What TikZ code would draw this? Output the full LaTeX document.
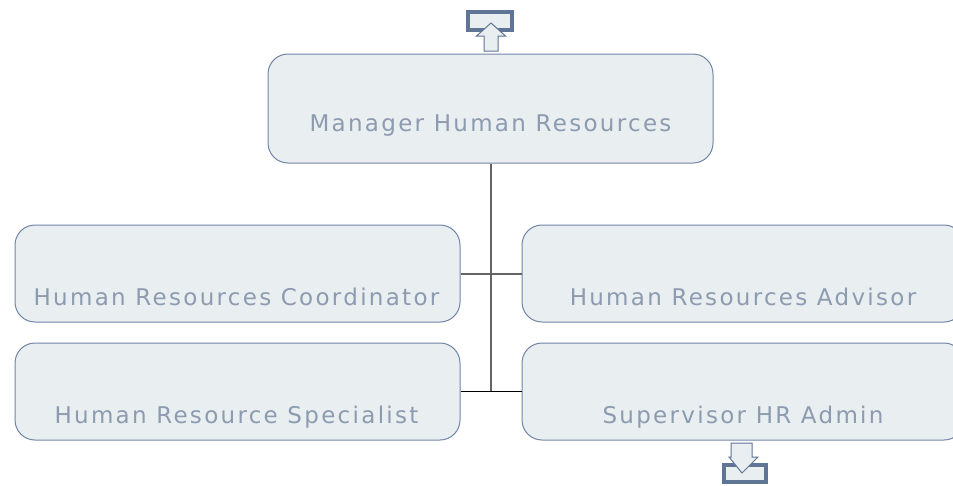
\documentclass[tikz,border=0pt]{standalone}
\usepackage{fontspec}
\setmainfont[LetterSpace=10]{DejaVu Sans}
\definecolor{boxfill}{RGB}{233,238,241}
\definecolor{boxline}{RGB}{112,132,166}
\definecolor{txt}{RGB}{140,155,176}
\definecolor{arrline}{RGB}{96,116,150}
\definecolor{conn}{RGB}{100,100,100}
\begin{document}
\begin{tikzpicture}[x=1pt,y=-1pt,
  box/.style={draw=boxline,fill=boxfill,line width=1pt,rounded corners=20pt,inner sep=0pt},
  lbl/.style={anchor=base,text=txt,inner sep=0pt,font=\fontsize{23}{28}\selectfont},
  connline/.style={draw=conn,line width=2pt},
  arrbox/.style={draw=arrline,fill=boxfill,line width=3.5pt},
  arrow/.style={draw=arrline,fill=boxfill,line width=1pt,line join=miter}]
\useasboundingbox (0,0) rectangle (953,485);
% boxes
\node[box,minimum width=445pt,minimum height=109pt] (top) at (490.5,108.5) {};
\node[box,minimum width=445pt,minimum height=97pt] (lt) at (237.5,273.5) {};
\node[box,minimum width=445pt,minimum height=97pt] (lb) at (237.5,391.5) {};
\node[box,minimum width=442pt,minimum height=97pt] (rt) at (743,273.5) {};
\node[box,minimum width=442pt,minimum height=97pt] (rb) at (743,391.5) {};
% labels
\node[lbl] (ttop) at (490.5,131) {Manager Human Resources};
\node[lbl] (tlt) at (236.5,305) {Human Resources Coordinator};
\node[lbl] (tlb) at (236.5,423) {Human Resource Specialist};
\node[lbl] (trt) at (743,305) {Human Resources Advisor};
\node[lbl] (trb) at (743,423) {Supervisor HR Admin};
% connectors
\coordinate (j1) at (top.south |- lt.east);
\coordinate (j2) at (top.south |- lb.east);
\draw[connline] (top.south) -- (j2);
\draw[connline] (lt.east) -- (rt.west);
\draw[draw=black,line width=1.5pt] (lb.east) -- (rb.west);
% up arrow (top)
\draw[arrbox] (468,12) rectangle (512,30);
\draw[arrow] (484,51) -- (484,36) -- (476.5,36) -- (491,23) -- (505.5,36) -- (498,36) -- (498,51) -- cycle;
% down arrow (bottom)
\draw[arrbox] (724,465) rectangle (766,482);
\draw[arrow] (731,443) -- (752,443) -- (752,457) -- (758,457) -- (742,473) -- (729,457) -- (731,457) -- cycle;
\end{tikzpicture}
\end{document}
